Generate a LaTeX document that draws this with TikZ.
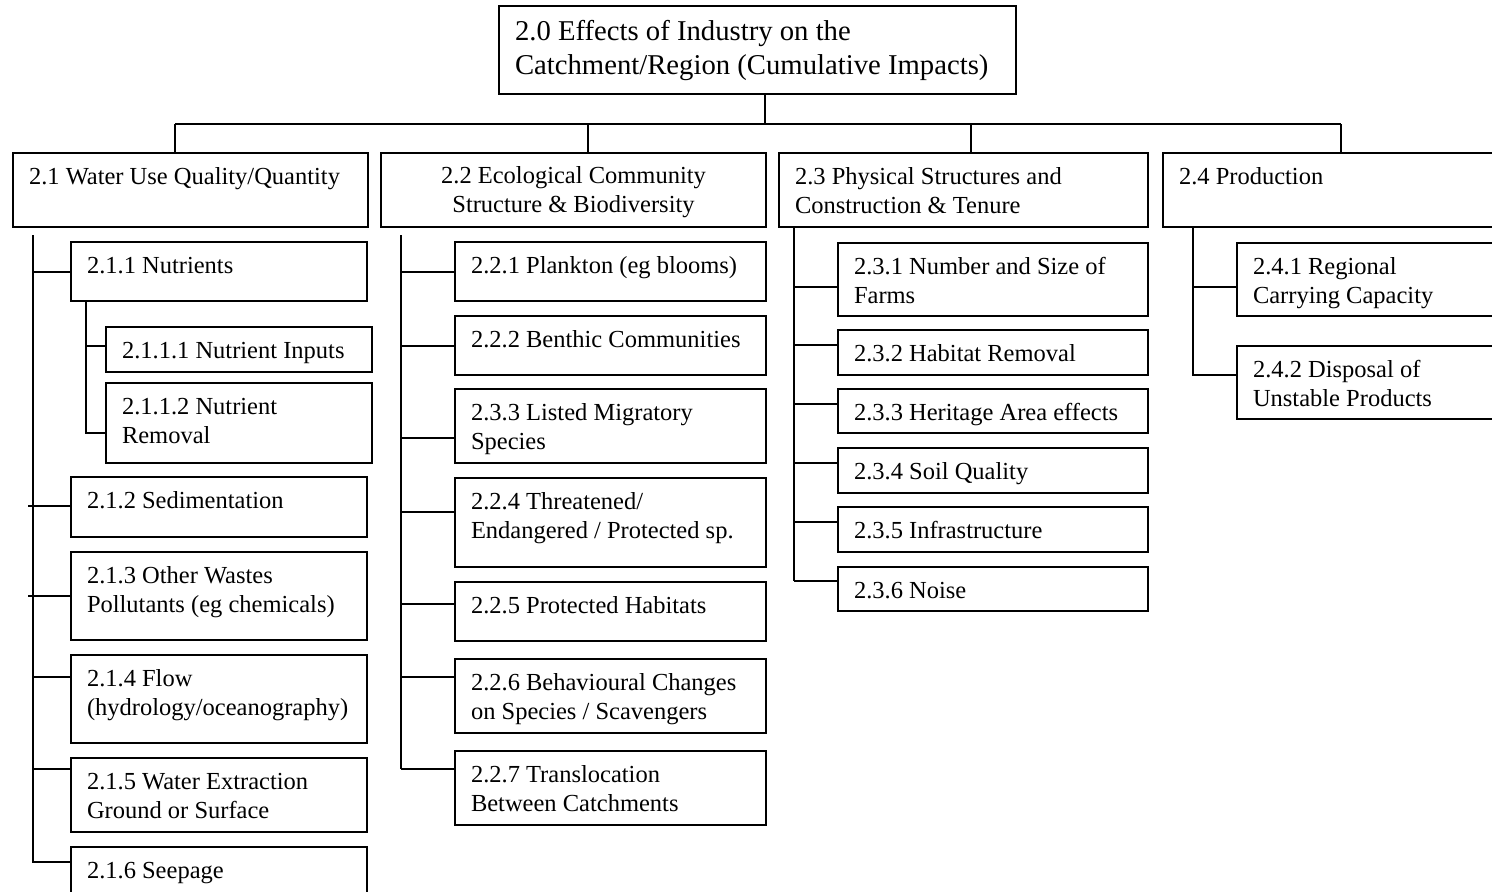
\documentclass[tikz,border=0pt]{standalone}
\usepackage{fontspec}
\setmainfont{Liberation Serif}
\usepackage{tikz}

% text block of a box, sizes given in pixels of the chart
\newcommand{\cell}[4][15.5pt]{\parbox[t][\dimexpr#3pt/2\relax][t]{\dimexpr#2pt/2\relax}{\raggedright\leftskip=8pt\rule{0pt}{#1}#4}}
\newcommand{\ccell}[3]{\parbox[t][\dimexpr#2pt/2\relax][t]{\dimexpr#1pt/2\relax}{\centering\rule{0pt}{15pt}#3}}

\begin{document}
\begin{tikzpicture}[x=0.5pt,y=-0.5pt,line width=0.6pt,
      box/.style={draw, anchor=north west, inner sep=0pt, outer sep=0pt,
        font=\fontsize{12.25}{14.5}\selectfont},
      topbox/.style={box, font=\fontsize{14.35}{17.2}\selectfont},
      ]
      \useasboundingbox (0,0) rectangle (1492,891);
      \clip (0,0) rectangle (1492,891);

      \node[topbox] (top) at (499,6) {\cell[17pt]{517}{88}{2.0 Effects of Industry on the\\Catchment/Region (Cumulative Impacts)}};

      % first level
      \node[box] (b21) at (13,153) {\cell{355}{74}{2.1 Water Use Quality/Quantity}};
      \node[box] (b22) at (381,153) {\ccell{385}{74}{2.2 Ecological Community\\Structure \& Biodiversity}};
      \node[box] (b23) at (779,153) {\cell{369}{74}{2.3 Physical Structures and\\Construction \& Tenure}};
      \node[box] (b24) at (1163,153) {\cell{380}{74}{2.4 Production}};

      % 2.1
      \node[box] (b211) at (71,242) {\cell{296}{59}{2.1.1 Nutrients}};
      \node[box] (b2111) at (106,327) {\cell{266}{45}{2.1.1.1 Nutrient Inputs}};
      \node[box] (b2112) at (106,383) {\cell{266}{80}{2.1.1.2 Nutrient\\Removal}};
      \node[box] (b212) at (71,477) {\cell{296}{60}{2.1.2 Sedimentation}};
      \node[box] (b213) at (71,552) {\cell{296}{88}{2.1.3 Other Wastes\\Pollutants (eg chemicals)}};
      \node[box] (b214) at (71,655) {\cell{296}{88}{2.1.4 Flow\\(hydrology/oceanography)}};
      \node[box] (b215) at (71,758) {\cell{296}{74}{2.1.5 Water Extraction\\Ground or Surface}};
      \node[box] (b216) at (71,847) {\cell{296}{60}{2.1.6 Seepage}};

      % 2.2
      \node[box] (b221) at (455,242) {\cell{311}{59}{2.2.1 Plankton (eg blooms)}};
      \node[box] (b222) at (455,316) {\cell{311}{59}{2.2.2 Benthic Communities}};
      \node[box] (b223) at (455,389) {\cell{311}{74}{2.3.3 Listed Migratory\\Species}};
      \node[box] (b224) at (455,478) {\cell{311}{89}{2.2.4 Threatened/\\Endangered / Protected sp.}};
      \node[box] (b225) at (455,582) {\cell{311}{59}{2.2.5 Protected Habitats}};
      \node[box] (b226) at (455,659) {\cell{311}{74}{2.2.6 Behavioural Changes\\on Species / Scavengers}};
      \node[box] (b227) at (455,751) {\cell{311}{74}{2.2.7 Translocation\\Between Catchments}};

      % 2.3
      \node[box] (b231) at (838,243) {\cell{310}{73}{2.3.1 Number and Size of\\Farms}};
      \node[box] (b232) at (838,330) {\cell{310}{45}{2.3.2 Habitat Removal}};
      \node[box] (b233) at (838,389) {\cell{310}{44}{2.3.3 Heritage Area effects}};
      \node[box] (b234) at (838,448) {\cell{310}{45}{2.3.4 Soil Quality}};
      \node[box] (b235) at (838,507) {\cell{310}{45}{2.3.5 Infrastructure}};
      \node[box] (b236) at (838,567) {\cell{310}{44}{2.3.6 Noise}};

      % 2.4
      \node[box] (b241) at (1237,243) {\cell{303}{73}{2.4.1 Regional\\Carrying Capacity}};
      \node[box] (b242) at (1237,346) {\cell{303}{73}{2.4.2 Disposal of\\Unstable Products}};

      % connectors
      \coordinate (j0) at (765,124);
      \draw (j0 |- top.south) -- (j0);
      \draw (175,124) -- (1341,124);
      \foreach \b/\x in {b21/175, b22/588, b23/971, b24/1341}
        \draw (\x,124) -- (\b.north -| \x,0);

      \draw (33,235) -- (33,862) -- (b216.west |- 0,862);
      \foreach \b/\y in {b211/272, b214/677, b215/769}
        \draw (33,\y) -- (\b.west |- 0,\y);
      \foreach \b/\y in {b212/506, b213/596}
        \draw (28,\y) -- (\b.west |- 0,\y);
      \draw (86,0 |- b211.south) -- (86,433) -- (b2112.west |- 0,433);
      \draw (86,346) -- (b2111.west |- 0,346);

      \draw (401,235) -- (401,769);
      \foreach \b/\y in {b221/272, b222/346, b223/438, b224/512, b225/604, b226/677, b227/769}
        \draw (401,\y) -- (\b.west |- 0,\y);

      \draw (794,0 |- b23.south) -- (794,581);
      \foreach \b/\y in {b231/287, b232/345, b233/404, b234/463, b235/522, b236/581}
        \draw (794,\y) -- (\b.west |- 0,\y);

      \draw (1193,0 |- b24.south) -- (1193,375) -- (b242.west |- 0,375);
      \draw (1193,287) -- (b241.west |- 0,287);
    \end{tikzpicture}
\end{document}
